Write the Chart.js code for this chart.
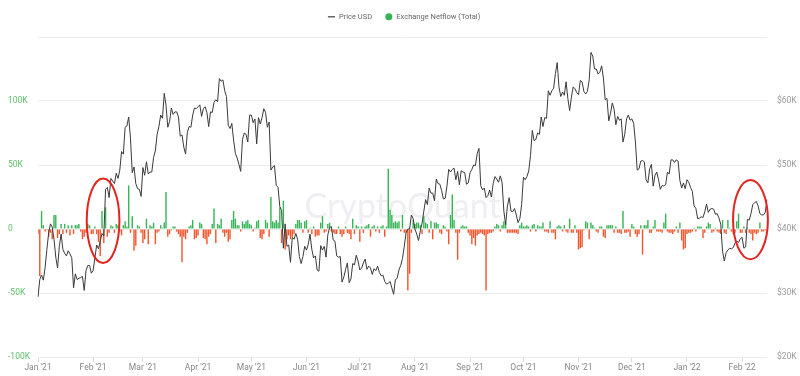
<!DOCTYPE html>
<html>
<head>
<meta charset="utf-8">
<script src="https://cdn.jsdelivr.net/npm/chart.js@4.4.1/dist/chart.umd.min.js"></script>
<style>
  html, body { margin: 0; padding: 0; background: #fff; }
  #wrap { width: 800px; height: 376px; }
</style>
</head>
<body>
<div id="wrap"><canvas id="chart"></canvas></div>
<script>
// daily data, 1 Jan 2021 .. 15 Feb 2022
const monthNames = ["Jan", "Feb", "Mar", "Apr", "May", "Jun", "Jul", "Aug", "Sep", "Oct", "Nov", "Dec"];

// BTC price, thousand USD
const priceK = [
  29.4, 32.1, 32.8, 32.0, 34.0, 36.8, 39.4, 40.8, 40.3, 38.4, 35.6, 33.9, 37.3, 39.2, 36.8, 36.2, 35.8, 36.6, 36.1, 35.5, 30.8, 33.0, 32.1, 32.3, 32.4, 32.6, 30.4, 33.5, 34.3, 34.3, 33.1, // Jan 21
  33.5, 35.5, 37.5, 36.9, 38.1, 39.3, 38.9, 46.2, 46.5, 44.9, 47.9, 47.5, 47.1, 48.7, 47.9, 49.2, 52.1, 51.7, 55.9, 56.1, 57.5, 54.2, 48.8, 49.7, 47.1, 46.3, 46.2, 45.1, // Feb
  49.6, 48.4, 50.5, 48.6, 48.9, 48.9, 51.2, 52.2, 54.8, 56.0, 57.8, 57.3, 61.2, 59.3, 55.9, 56.8, 58.9, 57.9, 58.3, 58.3, 57.5, 54.5, 54.7, 52.8, 51.7, 55.1, 56.0, 55.9, 57.8, 58.9, 58.8, // Mar
  59.1, 59.4, 57.6, 58.8, 59.1, 58.2, 56.0, 58.3, 58.2, 59.8, 60.2, 59.9, 63.5, 63.1, 63.3, 61.6, 60.7, 56.2, 55.7, 56.5, 53.9, 51.8, 51.1, 50.1, 49.0, 54.0, 55.0, 54.8, 53.6, 57.8, // Apr
  57.8, 56.6, 57.2, 53.3, 57.4, 56.4, 57.4, 58.8, 58.2, 55.9, 56.7, 49.2, 49.7, 49.9, 46.8, 46.5, 43.5, 42.9, 37.0, 40.8, 37.3, 37.5, 34.8, 38.7, 38.4, 39.3, 38.4, 35.7, 34.6, 35.7, 37.3, // May
  36.7, 37.6, 39.2, 36.8, 35.5, 35.8, 33.6, 33.4, 37.4, 36.7, 37.3, 35.6, 39.1, 40.2, 40.4, 38.3, 38.1, 35.8, 35.6, 35.7, 31.7, 32.5, 33.7, 34.7, 31.6, 32.2, 34.6, 34.4, 35.9, 35.0, // Jun
  33.6, 33.9, 34.7, 35.3, 33.7, 34.2, 33.9, 32.9, 33.8, 33.5, 34.2, 33.2, 32.7, 32.8, 31.8, 31.4, 31.5, 31.8, 30.8, 29.8, 32.1, 32.3, 33.6, 34.3, 35.4, 37.3, 39.4, 40.0, 40.0, 42.2, 41.6, // Jul
  40.0, 39.2, 38.2, 39.7, 40.9, 42.8, 44.6, 43.8, 46.4, 45.6, 45.6, 44.4, 47.8, 47.1, 47.0, 46.0, 44.7, 44.8, 46.7, 49.3, 48.9, 49.3, 49.5, 47.7, 49.0, 46.9, 49.1, 48.9, 48.8, 47.0, 47.2, // Aug
  48.8, 49.3, 50.0, 49.9, 51.8, 52.6, 46.8, 46.1, 46.4, 44.9, 45.2, 46.1, 45.0, 47.1, 48.2, 47.8, 47.3, 48.3, 47.3, 42.8, 40.7, 43.6, 44.9, 42.8, 42.7, 43.2, 42.2, 41.0, 41.6, 43.8, // Sep
  48.1, 47.7, 48.2, 49.1, 51.5, 55.4, 53.8, 54.0, 55.0, 54.8, 57.5, 56.0, 57.4, 57.3, 61.6, 60.9, 61.6, 62.0, 64.3, 66.0, 62.2, 60.7, 61.4, 60.9, 63.0, 60.4, 58.5, 60.6, 62.2, 61.9, 61.3, // Oct
  61.0, 63.2, 63.0, 61.5, 61.1, 61.5, 63.3, 67.6, 67.0, 65.0, 65.0, 64.2, 64.5, 65.5, 63.6, 60.2, 60.4, 56.9, 58.1, 59.7, 58.7, 56.3, 57.6, 57.0, 57.2, 53.6, 54.8, 57.2, 57.8, 57.0, // Nov
  57.2, 56.5, 53.6, 49.2, 49.4, 50.6, 50.7, 50.5, 47.7, 47.2, 49.4, 50.1, 46.7, 48.4, 48.9, 47.7, 46.2, 46.8, 46.7, 46.9, 48.9, 48.6, 50.8, 50.8, 50.4, 50.8, 50.6, 47.6, 46.4, 47.2, 46.3, // Dec
  47.7, 47.3, 46.5, 45.9, 43.6, 43.2, 41.6, 41.7, 41.9, 41.8, 42.7, 43.9, 42.6, 43.1, 43.2, 43.1, 42.3, 42.4, 41.7, 40.7, 36.5, 35.0, 36.3, 36.7, 37.0, 36.9, 37.1, 37.8, 38.1, 37.9, 38.5, // Jan 22
  38.7, 37.0, 37.2, 41.5, 41.4, 42.4, 43.8, 44.1, 44.3, 43.6, 42.4, 42.2, 42.2, 42.6, 44.6 // Feb
];

// exchange netflow, thousand BTC
const netflowK = [
  -4, -37, 14, 3, -2, -1, -6, -3, -8, 11, 11, -7, -4, 4, -4, 4, -3, 3, -5, 3, -4, 3, 3, 4, -2, -8, -6, -3, 4, 3, -4,
  -4, 2, -4, -10, -21, 14, -11, 17, -6, -3, 3, 2, -3, 4, 3, -2, -5, 3, 6, 2, 34, -3, 10, -17, -13, 3, 2, -3,
  -11, -8, 8, -12, 3, 2, 5, -12, -3, -2, 3, 1, 5, 29, -6, -4, -1, 2, 2, -2, -4, -6, -26, -6, -8, -3, 2, 3, 7, -8, -7,
  -5, 5, 4, -7, -8, -12, -6, -4, 4, 16, -11, 4, 3, 8, -3, -6, -3, -10, -8, 7, 14, 8, 3, 3, -2, 6, 4, 6, 7, 4,
  3, -2, 1, 6, 7, -7, -8, -4, 7, 5, -6, 25, 6, 5, 7, 5, 17, -11, 22, -16, -8, -5, -8, -6, -4, 4, 7, 7, 5, -3, 6,
  7, -3, 1, -4, 2, -6, -5, -5, 5, 10, -3, -2, 4, 5, -2, -3, -4, -4, 2, -4, -6, -4, 2, -3, -4, -8, 8, -4, 3, 2,
  -10, 2, -3, 2, 3, 4, -6, 2, 3, -2, 2, -3, 2, 3, -6, 2, 47, 15, 11, 5, 6, 5, 6, -2, 11, -3, -3, -48, -35, -3, 7,
  4, 5, 5, 3, -4, 10, 5, 4, -3, 6, -8, 5, 5, 4, -3, -4, 3, 2, -2, -12, 11, 27, 7, -3, -24, -3, 2, 3, 2, 2, -3,
  -5, -12, -7, -13, -5, -4, -3, -4, -5, -48, -4, -3, -3, -2, 2, 4, 3, -2, 3, 6, 5, -3, -3, -3, -3, -3, -3, -4, 3, 5,
  2, 2, 3, 2, -2, 3, 4, -2, 3, 2, 2, 5, -2, -2, -3, 6, -3, -3, -8, 2, 3, 2, -2, 3, -2, -3, 8, -3, -3, 3, -3,
  -16, -15, -14, -1, 6, 5, -8, 5, 3, 1, -2, -3, 2, 2, -6, -7, 3, 3, 3, 3, -3, 2, -3, -3, -4, 14, -3, -3, -2, -6,
  4, 2, -4, -6, -4, 3, -20, 3, 3, 7, -3, -3, 2, 7, -2, -2, -2, -3, 5, 12, -2, -3, -3, -4, -2, 2, -3, 5, -9, -16, -15,
  -4, -3, -3, -2, 1, -2, 2, 2, 2, -7, -3, 2, 5, 4, -3, -2, 1, -2, -3, -4, 7, -3, -4, 7, 1, -2, -4, -3, 6, 12, -3,
  -3, 2, -3, 1, -3, -4, -9, -3, -4, -3, 5, -2, -2, -1, -1
];

const green = "#37b457";
const red = "#f2552c";

const days = [];
for (let i = 0; i < priceK.length; i++) {
  days.push(new Date(Date.UTC(2021, 0, 1 + i)).toISOString().slice(0, 10));
}
const isMonthStart = (i) => days[i] && days[i].slice(8) === "01";

// red circles drawn on the chart (day index / netflow units)
const circles = [
  { day: 36.6, flow: 6.5, rDays: 9.2, rFlow: 33 },
  { day: 400.7, flow: 7.3, rDays: 9.8, rFlow: 31 },
];

const legendHeight = {
  id: "legendHeight",
  beforeInit(chart) {
    const fit = chart.legend.fit;
    chart.legend.fit = function () {
      fit.bind(chart.legend)();
      this.height = 37;
    };
  },
};

const watermark = {
  id: "watermark",
  beforeDatasetsDraw(chart) {
    const { ctx, chartArea: a } = chart;
    ctx.save();
    ctx.font = "40px Lato";
    const w = ctx.measureText("CryptoQuant").width;
    ctx.font = (40 * 196 / w).toFixed(1) + "px Lato";
    ctx.fillStyle = "#eeeef3";
    ctx.textAlign = "center";
    ctx.textBaseline = "middle";
    ctx.fillText("CryptoQuant", (a.left + a.right) / 2, a.top + a.height * 0.53);
    ctx.restore();
  },
};

const ellipses = {
  id: "ellipses",
  afterDatasetsDraw(chart) {
    const { ctx } = chart;
    const x = chart.scales.x, y = chart.scales.yFlow;
    ctx.save();
    ctx.strokeStyle = "#e3231e";
    ctx.lineWidth = 2;
    circles.forEach((c) => {
      const cx = x.getPixelForValue(c.day);
      const cy = y.getPixelForValue(c.flow);
      const rx = x.getPixelForValue(c.day + c.rDays) - cx;
      const ry = cy - y.getPixelForValue(c.flow + c.rFlow);
      ctx.beginPath();
      ctx.ellipse(cx, cy, rx, ry, 0, 0, Math.PI * 2);
      ctx.stroke();
    });
    ctx.restore();
  },
};

Chart.defaults.font.family = "Roboto";

new Chart(document.getElementById("chart"), {
  type: "bar",
  data: {
    labels: days,
    datasets: [
      {
        type: "line",
        label: "Price USD",
        data: priceK,
        yAxisID: "yPrice",
        borderColor: "#3a3a3a",
        borderWidth: 1,
        pointRadius: 0,
        tension: 0,
        order: 1,
      },
      {
        type: "bar",
        label: "Exchange Netflow (Total)",
        data: netflowK,
        yAxisID: "yFlow",
        backgroundColor: (c) => (c.raw >= 0 ? green : red),
        borderWidth: 0,
        barPercentage: 0.8,
        categoryPercentage: 1,
        order: 2,
      },
    ],
  },
  options: {
    responsive: true,
    maintainAspectRatio: false,
    animation: false,
    layout: { padding: { left: 8, right: 0, top: 0, bottom: 0 } },
    plugins: {
      tooltip: { enabled: false },
      legend: {
        display: true,
        position: "top",
        labels: {
          usePointStyle: true,
          boxHeight: 5,
          padding: 13,
          color: "#666",
          font: { size: 7.5 },
          generateLabels: () => [
            { text: "Price USD", pointStyle: "line", strokeStyle: "#666", fillStyle: "#666", lineWidth: 1.5, fontColor: "#666", datasetIndex: 0, hidden: false },
            { text: "Exchange Netflow (Total)", pointStyle: "circle", strokeStyle: green, fillStyle: green, lineWidth: 0, fontColor: "#666", datasetIndex: 1, hidden: false },
          ],
        },
      },
    },
    scales: {
      x: {
        offset: false,
        grid: {
          offset: false,
          drawOnChartArea: false,
          drawTicks: true,
          tickLength: 5,
          tickColor: (c) => (isMonthStart(c.index) ? "#dcdcdc" : "rgba(0,0,0,0)"),
        },
        border: { display: false },
        ticks: {
          autoSkip: false,
          maxRotation: 0,
          padding: 1,
          color: "#888",
          font: { size: 8.5 },
          callback: function (v, i) {
            if (!isMonthStart(i)) return "";
            const s = days[i];
            return monthNames[+s.slice(5, 7) - 1] + " '" + s.slice(2, 4);
          },
        },
        afterFit: (s) => { s.height = 19; },
      },
      yFlow: {
        position: "left",
        min: -100,
        max: 150,
        grid: { color: "#ececec", drawTicks: false },
        border: { display: false },
        ticks: {
          stepSize: 50,
          crossAlign: "far",
          padding: 0,
          color: "#5cbf6b",
          font: { size: 8.5 },
          callback: (v) => (v === 150 ? "" : v === 0 ? "0" : v + "K"),
        },
        afterFit: (s) => { s.width = 30; },
      },
      yPrice: {
        position: "right",
        min: 20,
        max: 70,
        grid: { drawOnChartArea: false, drawTicks: false },
        border: { display: false },
        ticks: {
          stepSize: 10,
          padding: 10,
          color: "#9a9a9a",
          font: { size: 8.5 },
          callback: (v) => (v === 70 ? "" : "$" + v + "K"),
        },
        afterFit: (s) => { s.width = 33; },
      },
    },
  },
  plugins: [legendHeight, watermark, ellipses],
});
</script>
</body>
</html>
